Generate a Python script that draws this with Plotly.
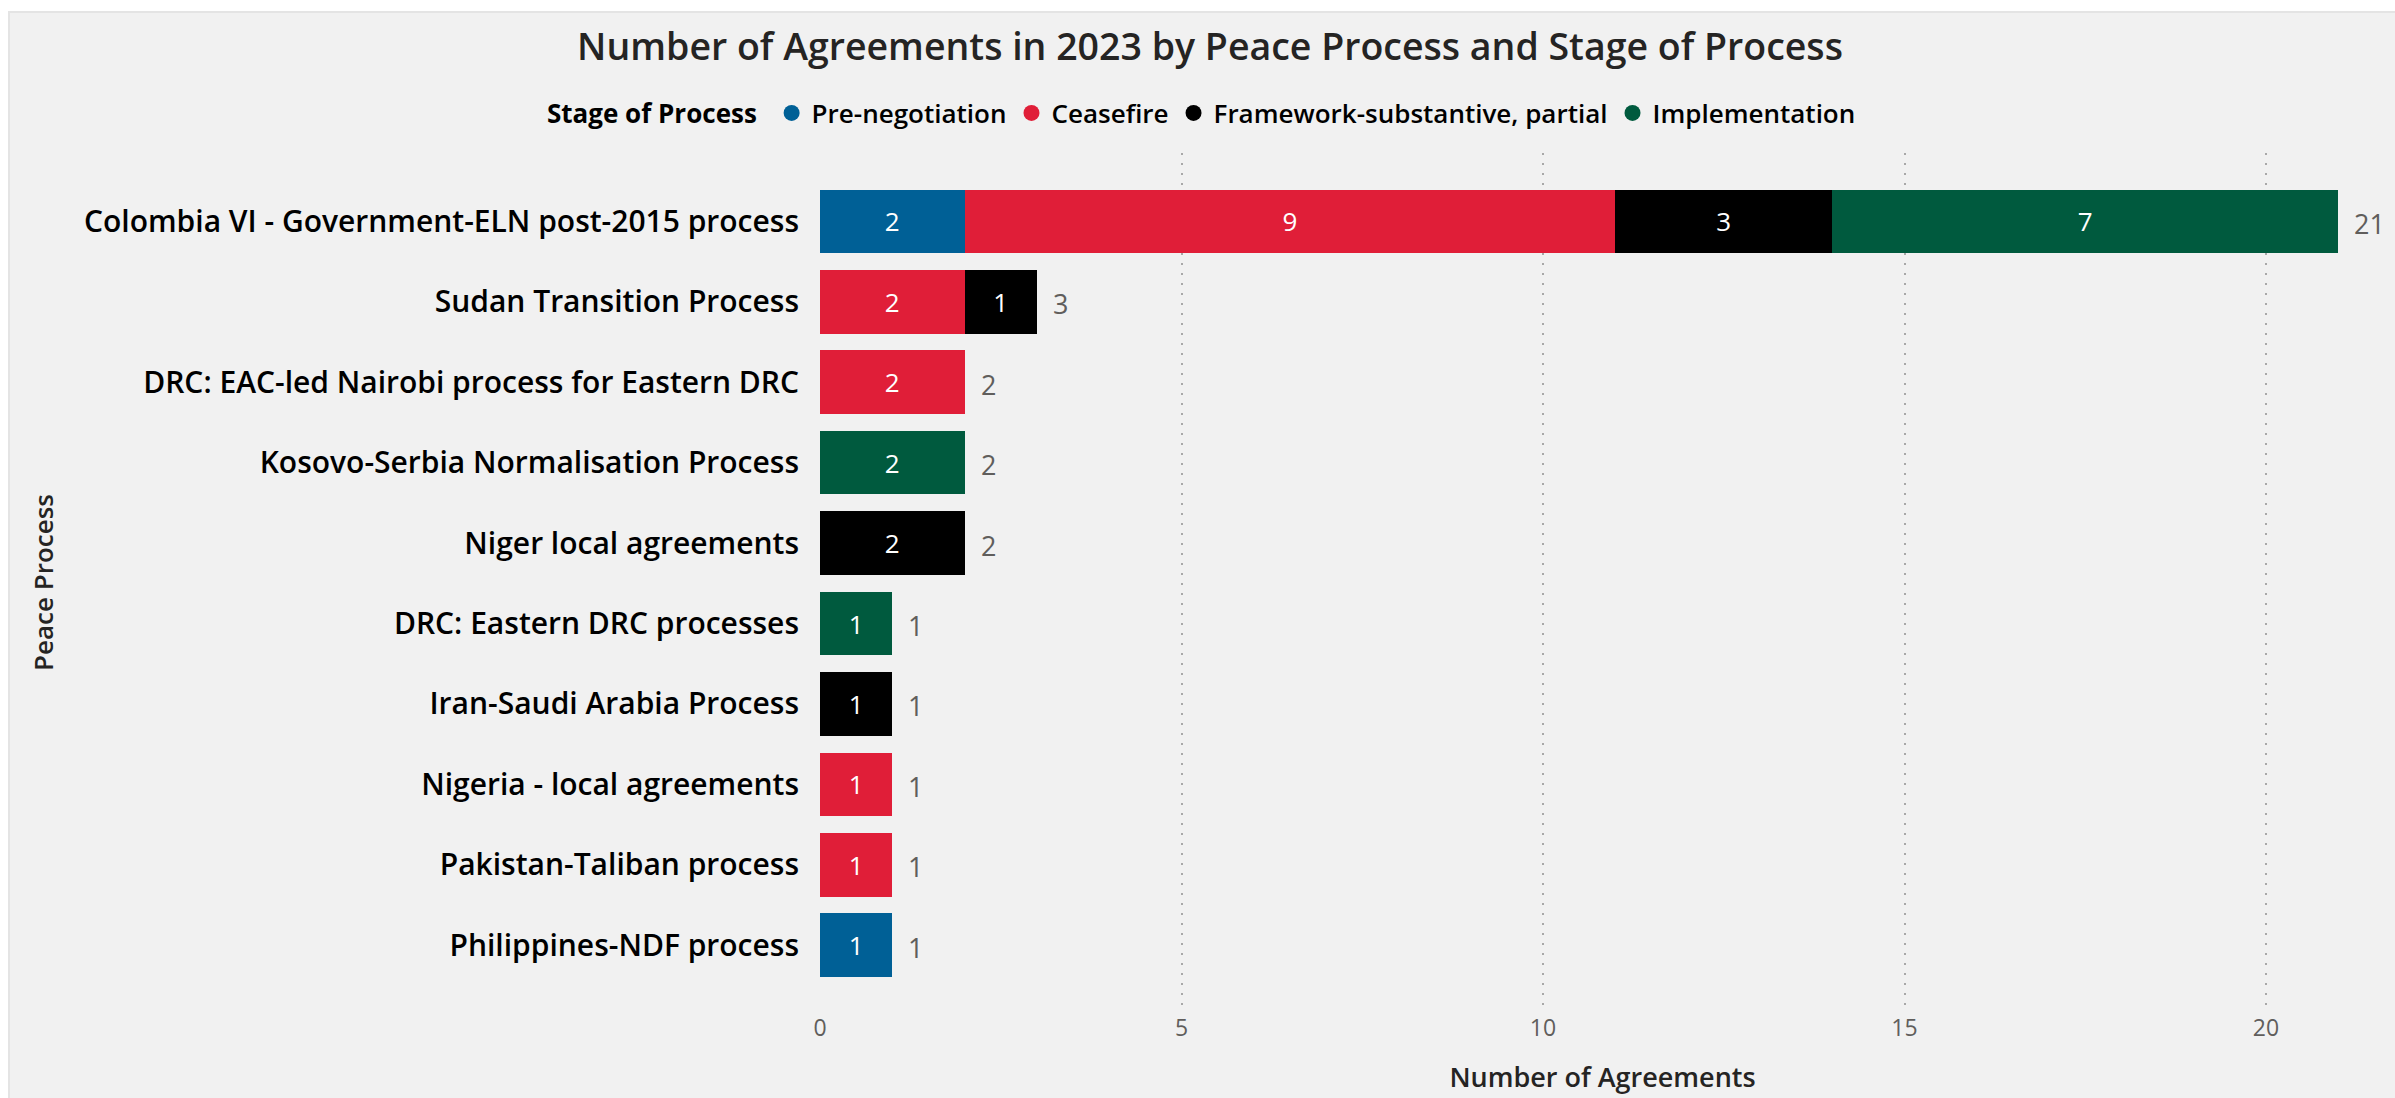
import plotly.graph_objects as go

# Peace processes (top to bottom) and agreement counts per stage
processes = [
    "Colombia VI - Government-ELN post-2015 process",
    "Sudan Transition Process",
    "DRC: EAC-led Nairobi process for Eastern DRC",
    "Kosovo-Serbia Normalisation Process",
    "Niger local agreements",
    "DRC: Eastern DRC processes",
    "Iran-Saudi Arabia Process",
    "Nigeria - local agreements",
    "Pakistan-Taliban process",
    "Philippines-NDF process",
]
pre_negotiation = [2, None, None, None, None, None, None, None, None, 1]
ceasefire = [9, 2, 2, None, None, None, None, 1, 1, None]
framework_partial = [3, 1, None, None, 2, None, 1, None, None, None]
implementation = [7, None, None, 2, None, 1, None, None, None, None]

stages = ["Pre-negotiation", "Ceasefire", "Framework-substantive, partial", "Implementation"]
stage_values = [pre_negotiation, ceasefire, framework_partial, implementation]
stage_colors = ["#006096", "#E01E38", "#000000", "#005A3E"]

x_ticks = [0, 5, 10, 15, 20]

totals = [sum(v or 0 for v in row) for row in zip(*stage_values)]

FONT = "Segoe UI Semibold, Segoe UI, Open Sans, sans-serif"
DARK = "#252423"
GREY = "#605E5C"

W, H = 2395, 1098
L, R, T, B = 820, 10, 153, 80
plot_w = W - L - R
plot_h = H - T - B

fig = go.Figure()

for name, vals, color in zip(stages, stage_values, stage_colors):
    fig.add_trace(go.Bar(
        name=name,
        y=processes,
        x=vals,
        orientation="h",
        marker=dict(color=color, line=dict(width=0)),
        text=[str(v) if v else "" for v in vals],
        textposition="inside",
        insidetextanchor="middle",
        textangle=0,
        textfont=dict(family=FONT, size=26, color="white", weight=500),
        constraintext="none",
        showlegend=False,
        hoverinfo="skip",
    ))

# circular legend markers for each stage
for name, color in zip(stages, stage_colors):
    fig.add_trace(go.Scatter(
        name=name,
        x=[None], y=[None],
        mode="markers",
        marker=dict(symbol="circle", size=20, color=color),
        showlegend=True,
    ))

# totals at the end of each bar
total_labels = [
    dict(x=t, y=p, xref="x", yref="y", text=str(t), showarrow=False,
         xanchor="left", yanchor="middle", xshift=14, yshift=-2,
         font=dict(family=FONT, size=27, color=GREY, weight=400))
    for t, p in zip(totals, processes)
]

def px_x(p):
    return (p - L) / plot_w

def px_y(p):
    return (H - B - p) / plot_h

fig.update_layout(
    width=W, height=H,
    margin=dict(l=L, r=R, t=T, b=B),
    barmode="stack",
    bargap=0.21,
    paper_bgcolor="white",
    plot_bgcolor="#F1F1F1",
    font=dict(family=FONT, color=DARK),
    title=dict(
        text="Number of Agreements in 2023 by Peace Process and Stage of Process",
        x=1210 / W, xref="container", xanchor="center",
        y=1 - 47 / H, yref="container", yanchor="middle",
        font=dict(family=FONT, size=37.5, color=DARK, weight=600),
    ),
    legend=dict(
        orientation="h",
        traceorder="normal",
        title=dict(text="Stage of Process ", font=dict(family=FONT, size=26, color="#000000", weight=700)),
        font=dict(family=FONT, size=26, color="#000000", weight=600),
        xref="container", x=1203 / W, xanchor="center",
        yref="container", y=1 - 113 / H, yanchor="middle",
        itemwidth=30,
        tracegroupgap=0,
        bgcolor="rgba(0,0,0,0)",
    ),
    xaxis=dict(
        range=[0, (W - R - L) / 72.3],
        tickvals=x_ticks,
        ticktext=[str(v) for v in x_ticks],
        tickfont=dict(family=FONT, size=23, color=GREY, weight=400),
        showgrid=True,
        gridcolor="#A8A8A8",
        gridwidth=1.5,
        griddash="2px,8px",
        zeroline=False,
        showline=False,
        ticks="",
        title=dict(text="Number of Agreements", standoff=26,
                   font=dict(family=FONT, size=27, color=DARK, weight=600)),
        fixedrange=True,
    ),
    yaxis=dict(
        categoryorder="array",
        categoryarray=processes,
        range=[9.83, -0.85],
        tickfont=dict(family=FONT, size=30, color="#000000", weight=600),
        showgrid=False,
        zeroline=False,
        showline=False,
        ticks="",
        ticklabelstandoff=20,
        title=dict(text="Peace Process", standoff=22,
                   font=dict(family=FONT, size=26, color=DARK, weight=600)),
        fixedrange=True,
    ),
    annotations=total_labels,
    shapes=[dict(
        type="rect", xref="paper", yref="paper", layer="below",
        x0=px_x(9), x1=px_x(W + 20), y0=px_y(H + 20), y1=px_y(11),
        fillcolor="#F1F1F1", line=dict(color="#E4E4E4", width=2),
    )],
)

fig.write_html("out.html")
